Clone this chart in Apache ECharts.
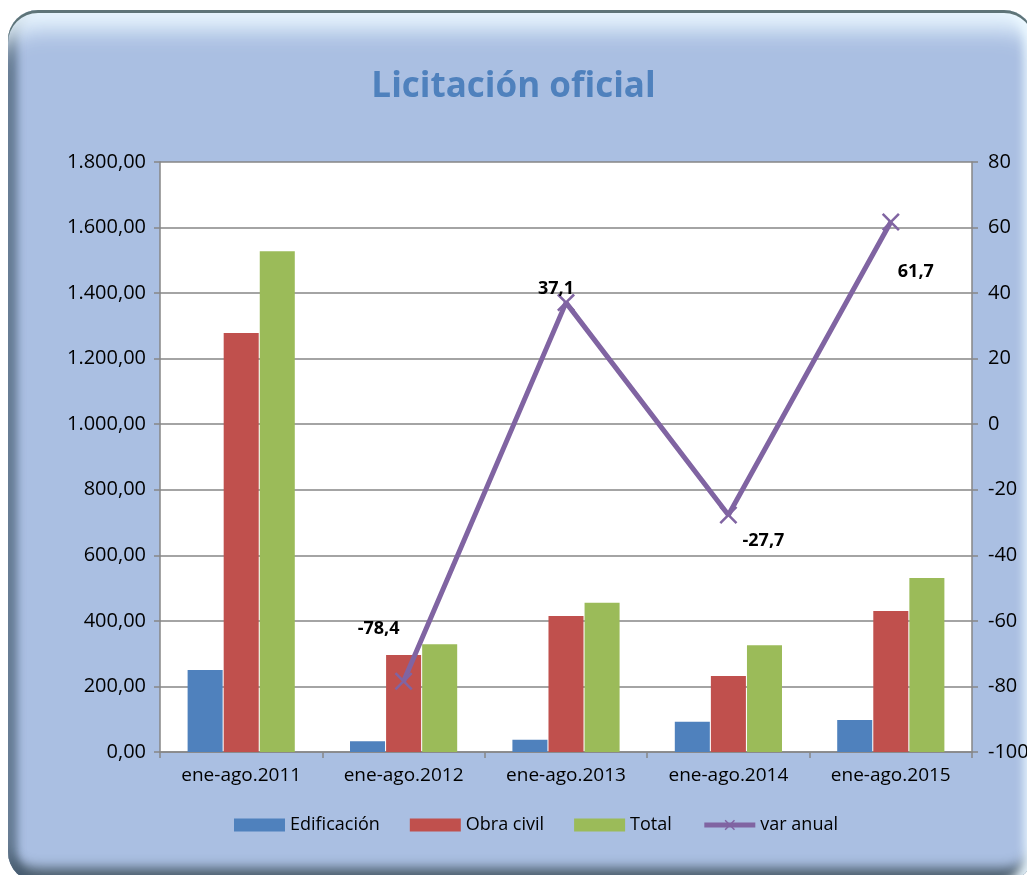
<!DOCTYPE html>
<html>
<head>
<meta charset="utf-8">
<script src="https://cdn.jsdelivr.net/npm/echarts@6/dist/echarts.min.js"></script>
<style>
html,body{margin:0;padding:0;background:#fff;overflow:hidden;}
#frame{position:absolute;left:8px;top:10px;width:1026px;height:872px;border-radius:30px;
background:#AABFE2;
box-shadow:
 inset 0 3px 0 #5E7478,
 inset 0 34px 22px -14px rgba(235,248,255,0.95),
 inset 12px 0 9px -3px rgba(70,92,115,0.75),
 inset -14px 0 10px -4px rgba(235,248,255,0.95),
 inset 0 -20px 12px -6px rgba(60,78,88,0.85);}
#chart{position:absolute;left:0;top:0;width:1027px;height:875px;}
</style>
</head>
<body>
<div id="frame"></div>
<div id="chart"></div>
<script>
const categories = ['ene-ago.2011','ene-ago.2012','ene-ago.2013','ene-ago.2014','ene-ago.2015'];
const edificacion = [250, 33, 37, 92, 98];
const obraCivil = [1278, 296, 415, 232, 430];
const total = [1528, 329, 455, 326, 531];
const varAnual = [null, -78.4, 37.1, -27.7, 61.7];
const labelOffsets = [[0,0], [-25,-52], [-10,-14], [35,26], [25,50]];

const fmtLeft = v => {
  const s = Math.round(v).toString().replace(/\B(?=(\d{3})+(?!\d))/g, '.');
  return s + ',00';
};
const xPath = 'path://M2,0 L10,8 L18,0 L20,2 L12,10 L20,18 L18,20 L10,12 L2,20 L0,18 L8,10 L0,2 Z';
const font = '"Open Sans", "Noto Sans", sans-serif';

const chart = echarts.init(document.getElementById('chart'), null, {renderer:'canvas'});
chart.setOption({
  backgroundColor: 'transparent',
  animation: false,
  textStyle: {fontFamily: font},
  title: {
    text: 'Licitación oficial', left: 'center', top: 65,
    textStyle: {color: '#4F81BD', fontSize: 35, fontWeight: 'bold', fontFamily: font}
  },
  grid: {left: 160, right: 55, top: 162, bottom: 123, show: true, backgroundColor: '#fff', borderWidth: 0,
    containLabel: false, outerBoundsMode: 'none'},
  legend: {
    bottom: 36, left: 229, itemWidth: 51, itemHeight: 13, itemGap: 30,
    textStyle: {fontSize: 18, color: '#000', fontFamily: font},
    data: [
      {name: 'Edificación', icon: 'rect'},
      {name: 'Obra civil', icon: 'rect'},
      {name: 'Total', icon: 'rect'},
      {name: 'var anual', lineStyle: {width: 5}}
    ]
  },
  xAxis: {
    type: 'category', data: categories,
    axisLine: {lineStyle: {color: '#868686', width: 1.5}},
    axisTick: {show: true, length: 6, lineStyle: {color: '#868686', width: 1.5}},
    axisLabel: {color: '#000', fontSize: 19, margin: 14}
  },
  yAxis: [
    {
      type: 'value', min: 0, max: 1800, interval: 200,
      axisLine: {show: true, lineStyle: {color: '#868686', width: 1.5}},
      axisTick: {show: true, length: 6, lineStyle: {color: '#868686', width: 1.5}},
      axisLabel: {color: '#000', fontSize: 20, formatter: fmtLeft, margin: 14},
      splitLine: {lineStyle: {color: '#868686', width: 1.5}}
    },
    {
      type: 'value', min: -100, max: 80, interval: 20, position: 'right',
      axisLine: {show: true, lineStyle: {color: '#868686', width: 1.5}},
      axisTick: {show: true, length: 6, lineStyle: {color: '#868686', width: 1.5}},
      axisLabel: {color: '#000', fontSize: 20, margin: 16},
      splitLine: {show: false}
    }
  ],
  series: [
    {name: 'Edificación', type: 'bar', data: edificacion, itemStyle: {color: '#4F81BD'}, barGap: '3%', barCategoryGap: '34%'},
    {name: 'Obra civil', type: 'bar', data: obraCivil, itemStyle: {color: '#C0504D'}, barGap: '3%', barCategoryGap: '34%'},
    {name: 'Total', type: 'bar', data: total, itemStyle: {color: '#9BBB59'}, barGap: '3%', barCategoryGap: '34%'},
    {
      name: 'var anual', type: 'line', yAxisIndex: 1,
      data: varAnual.map((v, i) => ({
        value: v,
        label: {offset: labelOffsets[i]}
      })),
      connectNulls: false,
      symbol: xPath, symbolSize: 18,
      lineStyle: {color: '#8064A2', width: 5},
      itemStyle: {color: '#8064A2'},
      label: {
        show: true, position: 'inside', color: '#000', fontWeight: 'bold', fontSize: 18,
        formatter: p => p.value == null ? '' : p.value.toFixed(1).replace('.', ',')
      },
      z: 5
    }
  ]
});
</script>
</body>
</html>
